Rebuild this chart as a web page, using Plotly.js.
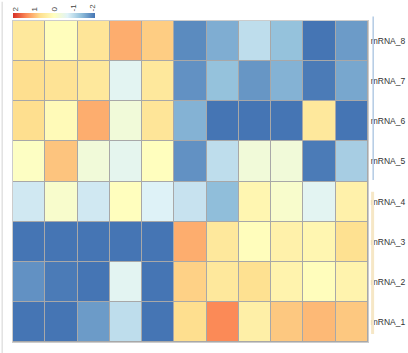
<!DOCTYPE html>
<html>
<head>
<meta charset="utf-8">
<script src="https://cdn.plot.ly/plotly-3.0.1.min.js"></script>
<style>html,body{margin:0;padding:0;background:#fff;}#chart{width:408px;height:353px;}</style>
</head>
<body>
<div id="chart"></div>
<script>
// Columns (samples) and rows (features, bottom to top)
const columns = ["S1","S2","S3","S4","S5","S6","S7","S8","S9","S10","S11"];
const rowLabels = ["mRNA_1","mRNA_2","mRNA_3","mRNA_4","mRNA_5","mRNA_6","mRNA_7","mRNA_8"];

// Scaled expression values per row
const row1 = [-2.14, -2.14, -1.77, -1.02, -2.14, 0.72, 1.45, 0.37, 0.92, 1.05, 0.92];
const row2 = [-1.87, -2.08, -2.14, -0.64, -2.14, 0.84, 0.53, 0.70, 0.27, 0.05, 0.27];
const row3 = [-2.14, -2.14, -2.14, -2.14, -2.14, 1.15, 0.53, 0.05, 0.32, 0.21, 0.70];
const row4 = [-0.86, -0.16, -0.86, 0.02, -0.73, -0.94, -1.44, 0.21, -0.16, -0.64, 0.32];
const row5 = [-0.05, 0.95, -0.32, -0.59, 0.02, -1.87, -1.02, -0.32, -0.32, -2.08, -1.23];
const row6 = [0.72, 0.11, 1.15, -0.32, 0.59, -1.55, -2.14, -2.14, -2.14, 0.53, -2.14];
const row7 = [0.72, 0.64, 0.53, -0.64, 0.53, -1.87, -1.39, -1.82, -1.55, -2.08, -1.66];
const row8 = [0.53, 0.05, 0.59, 1.15, 0.88, -1.93, -1.60, -1.02, -1.39, -2.14, -1.77];

// Colour key ticks (high on the left)
const keyTickVals = [2, 1, 0, -1, -2];
const keyTickText = ["2", "1", "0", "-1", "-2"];
const keyLimit = 2.14;

const values = [row1,row2,row3,row4,row5,row6,row7,row8];
// negate so the colour key runs high (red) on the left to low (blue) on the right
const zPlot = values.map(r => r.map(v => -v));

const colorscale = [
  [0.0, "#D73027"], [0.1667, "#FC8D59"], [0.3333, "#FEE090"], [0.5, "#FFFFBF"],
  [0.6667, "#E0F3F8"], [0.8333, "#91BFDB"], [1.0, "#4575B4"]
];

const heat = {
  type: "heatmap",
  x: columns,
  y: rowLabels,
  z: zPlot,
  customdata: values,
  hovertemplate: "%{y} %{x}: %{customdata}<extra></extra>",
  colorscale: colorscale,
  zmin: -keyLimit, zmax: keyLimit,
  xgap: 1, ygap: 1,
  colorbar: {
    orientation: "h",
    thickness: 5, thicknessmode: "pixels",
    len: 82, lenmode: "pixels",
    x: 0, xanchor: "left",
    y: 1.008, yanchor: "bottom",
    xpad: 0, ypad: 0,
    outlinewidth: 0,
    ticks: "", showticklabels: false
  }
};

// invisible carrier so the colour-key label axis is drawn
const keyAxisCarrier = {
  type: "scatter", mode: "markers",
  x: keyTickVals, y: keyTickVals.map(() => rowLabels[rowLabels.length - 1]),
  xaxis: "x2", yaxis: "y",
  marker: {opacity: 0, size: 1}, hoverinfo: "skip", showlegend: false
};

const layout = {
  width: 408, height: 353,
  margin: {l: 13, r: 40, t: 17, b: 11},
  paper_bgcolor: "#ffffff",
  plot_bgcolor: "rgba(0,0,0,0)",
  font: {family: "'Liberation Sans', Arial, sans-serif", size: 8, color: "#444"},
  showlegend: false,
  xaxis: {
    domain: [0, 1],
    showticklabels: false, ticks: "", showgrid: false, zeroline: false,
    showline: true, mirror: true, linecolor: "#cccccc", linewidth: 1
  },
  yaxis: {
    side: "right", ticks: "", showgrid: false, zeroline: false,
    showline: true, mirror: true, linecolor: "#cccccc", linewidth: 1,
    tickfont: {size: 8.5, color: "#333"}
  },
  xaxis2: {
    domain: [0, 82 / 355],
    anchor: "y", side: "top",
    range: [keyLimit, -keyLimit],
    tickmode: "array", tickvals: keyTickVals, ticktext: keyTickText,
    tickangle: -90, ticks: "outside", ticklen: 7, tickcolor: "rgba(0,0,0,0)",
    showgrid: false, zeroline: false, showline: false, fixedrange: true,
    tickfont: {size: 8, color: "#444"}
  },
  shapes: [
    {type: "rect", xref: "x domain", yref: "y domain", x0: 0, x1: 1, y0: 0, y1: 1,
     layer: "below", line: {width: 0}, fillcolor: "#a8a8a8"},
    {type: "line", xref: "paper", yref: "paper", x0: -0.0304, x1: -0.0304, y0: -0.04, y1: 1.06,
     line: {color: "#e2e2e2", width: 1.5}},
    {type: "line", xref: "paper", yref: "paper", x0: 1.0146, x1: 1.0146, y0: 0.505, y1: 1.014,
     line: {color: "#b3cbe4", width: 1.5}},
    {type: "line", xref: "paper", yref: "paper", x0: 1.013, x1: 1.013, y0: 0.025, y1: 0.468,
     line: {color: "#f6e7c6", width: 3}}
  ]
};

Plotly.newPlot("chart", [heat, keyAxisCarrier], layout, {displayModeBar: false, staticPlot: true});
</script>
</body>
</html>
